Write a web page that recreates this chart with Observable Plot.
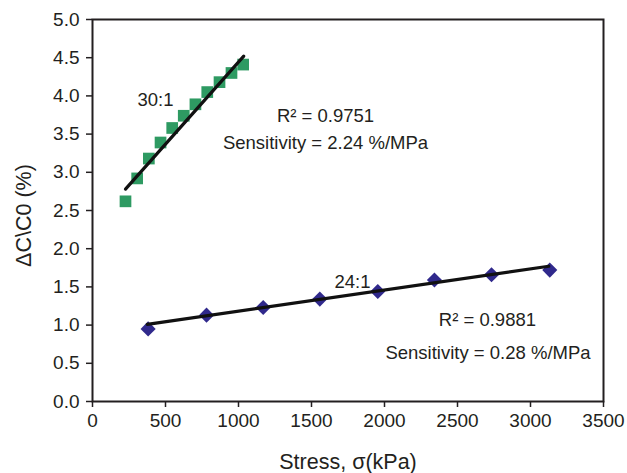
<!DOCTYPE html>
<html>
<head>
<meta charset="utf-8">
<script src="https://cdn.jsdelivr.net/npm/d3@7"></script>
<script src="https://cdn.jsdelivr.net/npm/@observablehq/plot@0.6"></script>
<style>
  html, body { margin: 0; padding: 0; background: #fff; }
</style>
</head>
<body>
<div id="chart"></div>
<script>
// Series 30:1 (green squares)
const stress30 = [226, 306, 386, 466, 546, 625, 705, 786, 870, 952, 1032];
const dc30 = [2.62, 2.92, 3.18, 3.39, 3.58, 3.74, 3.89, 4.05, 4.18, 4.30, 4.41];
// Series 24:1 (blue diamonds)
const stress24 = [381, 781, 1169, 1557, 1954, 2342, 2733, 3132];
const dc24 = [0.95, 1.13, 1.23, 1.34, 1.44, 1.59, 1.66, 1.72];
// Linear trend lines (end points)
const fit30X = [226, 1036];
const fit30Y = [2.78, 4.52];
const fit24X = [375, 3125];
const fit24Y = [1.01, 1.77];
// Ticks
const xTicks = [0, 500, 1000, 1500, 2000, 2500, 3000, 3500];
const yTicks = [0, 0.5, 1, 1.5, 2, 2.5, 3, 3.5, 4, 4.5, 5];
// Annotations (data coordinates)
const noteText = ["30:1", "R\u00B2 = 0.9751", "Sensitivity = 2.24 %/MPa", "24:1", "R\u00B2 = 0.9881", "Sensitivity = 0.28 %/MPa"];
const noteX = [431, 1596, 1596, 1781, 2705, 2709];
const noteY = [3.94, 3.73, 3.38, 1.56, 1.07, 0.64];
const xLabel = "Stress, \u03C3(kPa)";
const yLabel = "\u0394C\\C0 (%)";

const d30 = stress30.map((x, i) => ({x, y: dc30[i]}));
const d24 = stress24.map((x, i) => ({x, y: dc24[i]}));
const f30 = fit30X.map((x, i) => ({x, y: fit30Y[i]}));
const f24 = fit24X.map((x, i) => ({x, y: fit24Y[i]}));
const notes = noteText.map((t, i) => ({t, x: noteX[i], y: noteY[i]}));

const ink = "#231f20";
const chart = Plot.plot({
  width: 627,
  height: 473,
  marginLeft: 92,
  marginRight: 24,
  marginTop: 19,
  marginBottom: 72,
  style: {fontFamily: "'Liberation Sans', Arial, sans-serif", fontSize: "19px", color: ink, background: "#fff"},
  x: {domain: [0, 3500]},
  y: {domain: [0, 5]},
  marks: [
    Plot.axisX({ticks: xTicks, tickSize: 6, tickPadding: 6, tickFormat: d => String(d), label: null, stroke: ink, strokeWidth: 1.5, fontSize: 19}),
    Plot.axisY({ticks: yTicks, tickSize: 6, tickPadding: 7, tickFormat: d => d.toFixed(1), label: null, stroke: ink, strokeWidth: 1.5, fontSize: 19}),
    Plot.dot(d30, {x: "x", y: "y", symbol: "square", r: 6.6, fill: "#2e9a62", stroke: "none"}),
    Plot.dot(d24, {x: "x", y: "y", symbol: "diamond2", r: 6.8, fill: "#30298c", stroke: "none"}),
    Plot.line(f30, {x: "x", y: "y", stroke: "#111", strokeWidth: 3.2}),
    Plot.line(f24, {x: "x", y: "y", stroke: "#111", strokeWidth: 3.2}),
    Plot.text(notes, {x: "x", y: "y", text: "t", fontSize: 18.5, fill: ink}),
    Plot.text([xLabel], {text: d => d, frameAnchor: "bottom", textAnchor: "middle", lineAnchor: "middle", dy: 61, fontSize: 21.5, fill: ink}),
    Plot.text([yLabel], {text: d => d, frameAnchor: "left", textAnchor: "middle", lineAnchor: "middle", dx: -68, dy: 5, rotate: -90, fontSize: 21.5, fill: ink}),
    Plot.frame({stroke: ink, strokeWidth: 2})
  ]
});
document.getElementById("chart").appendChild(chart);
</script>
</body>
</html>
